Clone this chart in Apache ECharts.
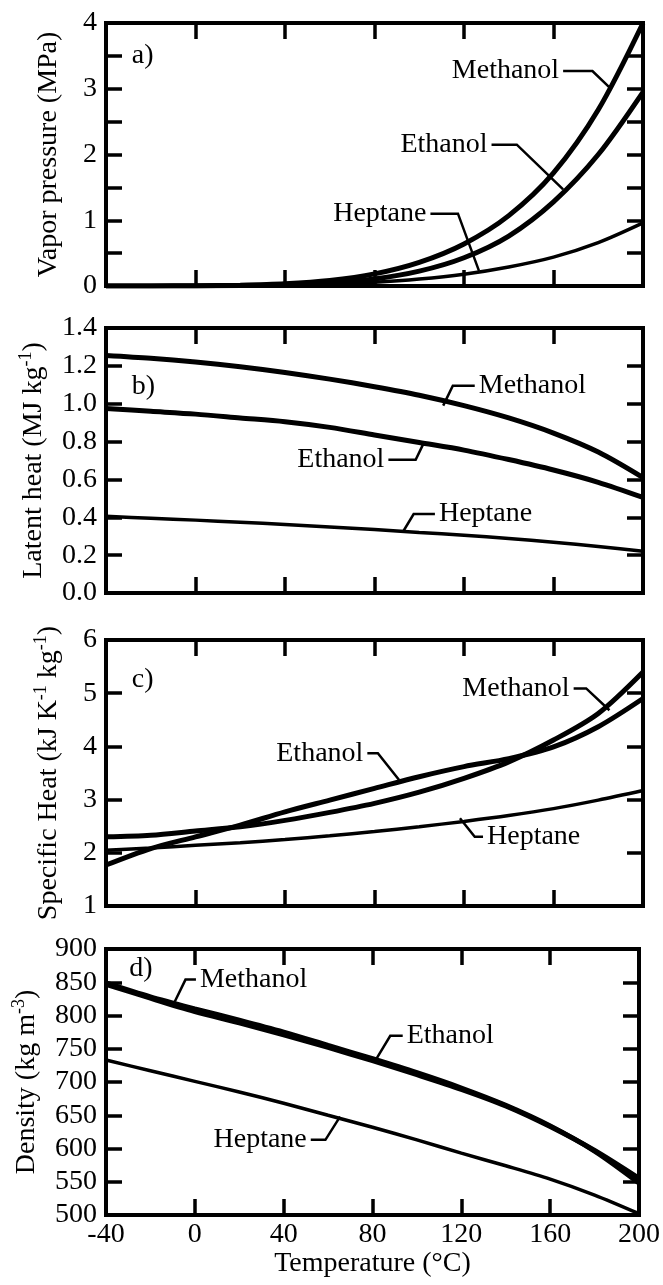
<!DOCTYPE html>
<html><head><meta charset="utf-8">
<script src="https://cdn.jsdelivr.net/npm/echarts@6/dist/echarts.min.js"></script>
<style>html,body{margin:0;padding:0;background:#fff}#c{width:663px;height:1285px}</style>
</head><body><div id="c"></div>
<script>
// ---------- data ----------
const temps = [-40, -20, 0, 20, 40, 60, 80, 100, 120, 140, 160, 180, 200];
const xTicks = [-40, 0, 40, 80, 120, 160, 200];
const seriesNames = ['Methanol', 'Ethanol', 'Heptane'];

// a) vapor pressure (MPa)
const methanolVP = [0.0004, 0.0018, 0.004, 0.013, 0.035, 0.085, 0.185, 0.36, 0.64, 1.07, 1.72, 2.68, 4.0];
const ethanolVP  = [0.0001, 0.0005, 0.0016, 0.0059, 0.018, 0.047, 0.108, 0.226, 0.43, 0.76, 1.28, 2.0, 2.95];
const heptaneVP  = [0.0002, 0.0006, 0.0015, 0.0047, 0.012, 0.028, 0.057, 0.106, 0.18, 0.29, 0.44, 0.66, 0.96];

// b) latent heat (MJ/kg)
const methanolLH = [1.255, 1.24, 1.22, 1.195, 1.165, 1.13, 1.09, 1.045, 0.99, 0.925, 0.845, 0.745, 0.61];
const ethanolLH  = [0.975, 0.96, 0.945, 0.925, 0.905, 0.875, 0.835, 0.795, 0.755, 0.705, 0.65, 0.585, 0.505];
const heptaneLH  = [0.405, 0.395, 0.385, 0.374, 0.362, 0.349, 0.335, 0.32, 0.305, 0.288, 0.268, 0.246, 0.22];

// c) specific heat (kJ/kg/K)
const methanolCp = [2.30, 2.33, 2.41, 2.49, 2.61, 2.76, 2.93, 3.14, 3.40, 3.71, 4.12, 4.62, 5.40];
const ethanolCp  = [1.77, 2.08, 2.30, 2.52, 2.77, 2.99, 3.21, 3.43, 3.62, 3.77, 3.99, 4.37, 4.90];
const heptaneCp  = [2.05, 2.09, 2.14, 2.19, 2.25, 2.32, 2.40, 2.49, 2.59, 2.70, 2.83, 2.99, 3.17];

// d) density (kg/m3)
const methanolRho = [849, 828, 810, 793, 775, 755, 735, 714, 691, 665, 634, 596, 548];
const ethanolRho  = [847, 826, 806, 789, 771, 752, 732, 711, 689, 664, 633, 597, 555];
const heptaneRho  = [733, 717, 701, 685, 668, 650, 632, 613, 593, 574, 554, 530, 502];

// ---------- layout / style ----------
const FONT = 'Liberation Serif';
const FS = 28;
const gridBoxes = [
  {top: 23, height: 263},
  {top: 328, height: 265},
  {top: 640, height: 266},
  {top: 949, height: 266}
];
const panels = [
  {label: 'a)', labelAt: [-28.5, 3.51], name: 'Vapor pressure (MPa)', min: 0, max: 4, interval: 0.5,
   fmt: v => (Math.abs(v - Math.round(v)) < 1e-9 ? String(Math.round(v)) : ''),
   data: [methanolVP, ethanolVP, heptaneVP]},
  {label: 'b)', labelAt: [-28.5, 1.09], name: 'Latent heat (MJ kg{sup|-1})', min: 0, max: 1.4, interval: 0.2,
   fmt: v => v.toFixed(1), data: [methanolLH, ethanolLH, heptaneLH]},
  {label: 'c)', labelAt: [-28.5, 5.25], name: 'Specific Heat (kJ K{sup|-1} kg{sup|-1})', min: 1, max: 6, interval: 1,
   fmt: v => String(v), data: [methanolCp, ethanolCp, heptaneCp]},
  {label: 'd)', labelAt: [-29.5, 871], name: 'Density (kg m{sup|-3})', min: 500, max: 900, interval: 50,
   fmt: v => String(v), data: [methanolRho, ethanolRho, heptaneRho]}
];
const lineWidths = [5, 5, 3.5];

// annotation leaders in data coordinates; text sits at first point
const annotations = [
  {p: 0, text: 'Methanol', align: 'right', pts: [[164.3, 3.27], [177.4, 3.27], [185, 3.02]]},
  {p: 0, text: 'Ethanol', align: 'right', pts: [[132.3, 2.15], [143.6, 2.15], [164.3, 1.47]]},
  {p: 0, text: 'Heptane', align: 'right', pts: [[105, 1.10], [117.3, 1.10], [126.7, 0.23]]},
  {p: 1, text: 'Methanol', align: 'left', pts: [[124.8, 1.095], [115, 1.095], [110.7, 0.99]]},
  {p: 1, text: 'Ethanol', align: 'right', pts: [[86.2, 0.704], [98.4, 0.704], [102.2, 0.797]]},
  {p: 1, text: 'Heptane', align: 'left', pts: [[107, 0.417], [97.5, 0.417], [92.8, 0.325]]},
  {p: 2, text: 'Methanol', align: 'right', pts: [[169, 5.09], [174.6, 5.09], [185, 4.68]]},
  {p: 2, text: 'Ethanol', align: 'right', pts: [[76.8, 3.87], [81.5, 3.87], [91, 3.37]]},
  {p: 2, text: 'Heptane', align: 'left', pts: [[128.5, 2.30], [124.8, 2.30], [118.2, 2.65]]},
  {p: 3, text: 'Methanol', align: 'left', pts: [[0.5, 854], [-4.2, 854], [-9, 821]]},
  {p: 3, text: 'Ethanol', align: 'left', pts: [[93.6, 769.5], [88, 769.5], [81.4, 733]]},
  {p: 3, text: 'Heptane', align: 'right', pts: [[52.2, 613], [58.8, 613], [65.4, 648]]}
];

// ---------- build option ----------
const chart = echarts.init(document.getElementById('c'), null, {renderer: 'canvas'});
const grid = [], xAxis = [], yAxis = [], series = [];
const tick = {inside: true, length: 16, lineStyle: {color: '#000', width: 3.5}};
const noLine = {show: false, onZero: false};
panels.forEach((pn, i) => {
  grid.push({left: 106, width: 537, top: gridBoxes[i].top, height: gridBoxes[i].height,
    show: true, borderColor: '#000', borderWidth: 4, backgroundColor: 'transparent', containLabel: false});
  const isLast = i === panels.length - 1;
  xAxis.push({gridIndex: i, type: 'value', position: 'bottom', min: xTicks[0], max: xTicks[xTicks.length - 1], interval: 40,
    axisLine: noLine, axisTick: tick, splitLine: {show: false},
    axisLabel: {show: isLast, margin: 6, color: '#000', fontFamily: FONT, fontSize: FS, showMinLabel: true, showMaxLabel: true},
    name: isLast ? 'Temperature (°C)' : '', nameLocation: 'middle', nameGap: 34,
    nameTextStyle: {color: '#000', fontFamily: FONT, fontSize: FS}});
  xAxis.push({gridIndex: i, type: 'value', position: 'top', min: -40, max: 200, interval: 40,
    axisLine: noLine, axisTick: tick, splitLine: {show: false}, axisLabel: {show: false}});
  yAxis.push({gridIndex: i, type: 'value', position: 'left', min: pn.min, max: pn.max, interval: pn.interval,
    axisLine: noLine, axisTick: tick, splitLine: {show: false},
    axisLabel: {margin: 9, color: '#000', fontFamily: FONT, fontSize: FS, formatter: pn.fmt, showMinLabel: true, showMaxLabel: true},
    name: pn.name, nameLocation: 'middle', nameGap: 40, nameRotate: 90,
    nameTextStyle: {color: '#000', fontFamily: FONT, fontSize: FS, lineHeight: 34,
      rich: {sup: {fontFamily: FONT, fontSize: 18, verticalAlign: 'top', lineHeight: 34, color: '#000'}}}});
  yAxis.push({gridIndex: i, type: 'value', position: 'right', min: pn.min, max: pn.max, interval: pn.interval,
    axisLine: noLine, axisTick: tick, splitLine: {show: false}, axisLabel: {show: false}});
  pn.data.forEach((arr, k) => {
    series.push({type: 'line', name: seriesNames[k], xAxisIndex: 2 * i, yAxisIndex: 2 * i,
      data: temps.map((t, j) => [t, arr[j]]), showSymbol: false, symbol: 'none',
      smooth: 0.3, silent: true, clip: true,
      lineStyle: {color: '#000', width: lineWidths[k]}});
  });
});

chart.setOption({animation: false, backgroundColor: '#fff', grid, xAxis, yAxis, series});

// ---------- annotations via library scales ----------
const graphics = [];
const toPx = (p, pt) => chart.convertToPixel({xAxisIndex: 2 * p, yAxisIndex: 2 * p}, pt);
annotations.forEach(a => {
  const px = a.pts.map(pt => toPx(a.p, pt));
  graphics.push({type: 'polyline', shape: {points: px}, style: {stroke: '#000', lineWidth: 2.5, fill: null}, silent: true});
  const gap = 4;
  graphics.push({type: 'text', x: px[0][0] + (a.align === 'right' ? -gap : gap), y: px[0][1],
    style: {text: a.text, fill: '#000', font: FS + 'px "' + FONT + '"', textAlign: a.align, textVerticalAlign: 'middle'}, silent: true});
});
panels.forEach((pn, i) => {
  const q = toPx(i, pn.labelAt);
  graphics.push({type: 'text', x: q[0], y: q[1],
    style: {text: pn.label, fill: '#000', font: FS + 'px "' + FONT + '"', textAlign: 'left', textVerticalAlign: 'middle'}, silent: true});
});
chart.setOption({graphic: graphics});
</script>
</body></html>
